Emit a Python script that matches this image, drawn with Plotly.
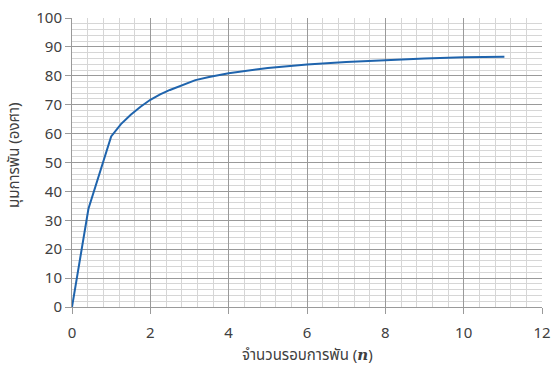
import plotly.graph_objects as go

turns = [0, 0.42, 1.0, 1.25, 1.5, 1.75, 2.0, 2.25, 2.5, 2.75, 3.15, 3.5, 4, 5, 6, 7, 8, 9, 10, 11.04]
angle = [0, 34, 59, 63.3, 66.5, 69.3, 71.7, 73.6, 75.1, 76.5, 78.5, 79.6, 80.9, 82.7, 83.9, 84.8, 85.5, 86.0, 86.4, 86.6]

x_ticks = [0, 2, 4, 6, 8, 10, 12]
y_ticks = [0, 10, 20, 30, 40, 50, 60, 70, 80, 90, 100]

x_title = "จำนวนรอบการพัน (<b><i><span style='font-family:\"DejaVu Serif\", serif'>n</span></i></b>)"
y_title = "มุมการพัน (องศา)"

font_family = "Tahoma, 'Noto Sans Thai', 'Noto Sans', 'DejaVu Sans', sans-serif"
text_color = "#404040"

fig = go.Figure()
fig.add_trace(go.Scatter(
    x=turns, y=angle, mode="lines",
    line=dict(color="#1f64ad", width=2),
    hoverinfo="skip",
))

major = "#9a9a9a"
minor = "#d6d6d6"

fig.update_layout(
    width=551, height=369,
    margin=dict(l=72, r=9, t=18, b=62),
    paper_bgcolor="white", plot_bgcolor="white",
    showlegend=False,
    font=dict(family=font_family, color=text_color, size=15),
    xaxis=dict(
        range=[0, 12], tickvals=x_ticks, ticktext=[str(v) for v in x_ticks],
        showgrid=True, gridcolor=major, gridwidth=1,
        minor=dict(dtick=0.4, tick0=0, showgrid=True, gridcolor=minor, gridwidth=1),
        showline=True, linecolor=major, linewidth=1,
        ticks="outside", ticklen=6, tickcolor=major,
        ticklabelstandoff=6, ticklabeloverflow="allow",
        zeroline=False, automargin=False,
        tickfont=dict(size=15, color=text_color),
    ),
    yaxis=dict(
        range=[0, 100], tickvals=y_ticks, ticktext=[str(v) for v in y_ticks],
        showgrid=True, gridcolor=major, gridwidth=1,
        minor=dict(dtick=2, tick0=0, showgrid=True, gridcolor=minor, gridwidth=1),
        showline=True, linecolor=major, linewidth=1,
        ticks="outside", ticklen=6, tickcolor=major,
        ticklabeloverflow="allow",
        zeroline=False, automargin=False,
        tickfont=dict(size=15, color=text_color),
    ),
    annotations=[
        dict(text=x_title, xref="paper", yref="paper", x=0.5, y=0,
             xanchor="center", yanchor="middle", yshift=-48, showarrow=False,
             font=dict(size=15, color=text_color)),
        dict(text=y_title, xref="paper", yref="paper", x=0, y=0.526,
             xanchor="center", yanchor="middle", xshift=-57, textangle=-90,
             showarrow=False, font=dict(size=15, color=text_color)),
    ],
)

fig.write_html("out.html", config={"displayModeBar": False},
               post_script="document.body.style.margin='0';")
